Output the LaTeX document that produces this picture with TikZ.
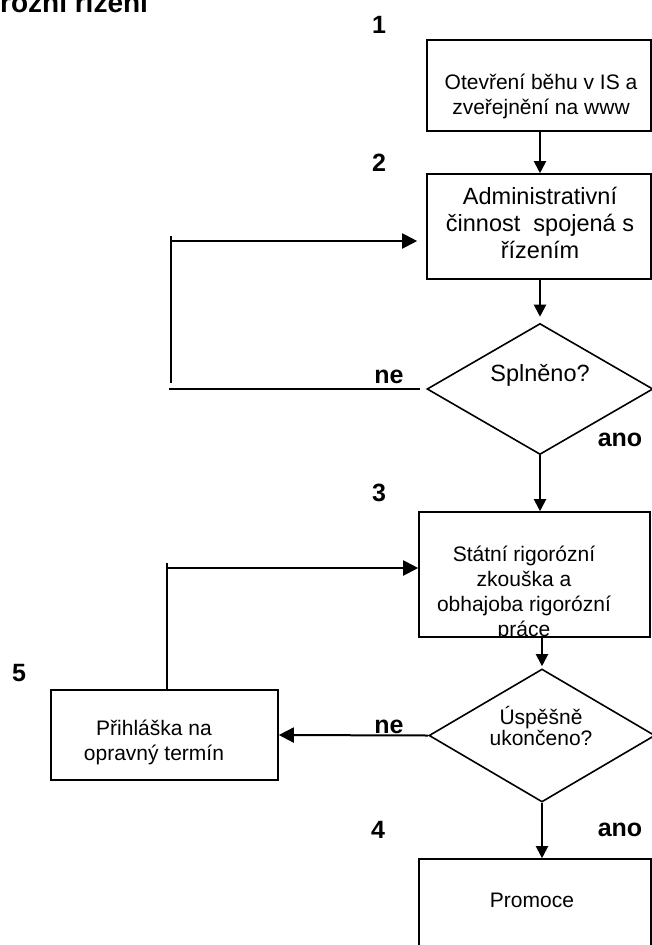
\documentclass[tikz,border=0pt]{standalone}
\usepackage{fontspec}
\setmainfont{Liberation Sans}
\usetikzlibrary{shapes.geometric,arrows.meta}
\begin{document}
\begin{tikzpicture}[x=1pt,y=-1pt,
  box/.style={draw,line width=1.6pt,inner sep=0pt},
  dec/.style={draw,diamond,line width=1.6pt,inner sep=0pt},
  txt/.style={inner sep=0pt,align=center,font=\fontsize{21}{25}\selectfont},
  lbl/.style={inner sep=0pt,font=\bfseries\fontsize{25}{25}\selectfont},
  flow/.style={line width=2pt},
  arr/.style={flow,-{Triangle[length=12pt,width=12pt]}},
  arrh/.style={flow,-{Triangle[length=15pt,width=15pt]}}]
\useasboundingbox (0,0) rectangle (652,945);
\clip (0,0) rectangle (652,945);
% title (cut off at the top)
\node[anchor=base west,inner sep=0pt,font=\bfseries\fontsize{28}{28}\selectfont] (title) at (0,12) {rózní řízení};
% boxes
\node[box,minimum width=224pt,minimum height=91pt] (b1) at (539,85.5) {};
\node[txt] (t1) at (541,96) {Otevření běhu v IS a\\zveřejnění na www};
\node[box,minimum width=224pt,minimum height=105pt] (b2) at (539,226.5) {};
\node[txt,font=\fontsize{23.5}{27}\selectfont] (t2) at (540,223) {Administrativní\\činnost\ \ spojená s\\řízením};
\node[dec,minimum width=226pt,minimum height=131pt] (d1) at (540,389) {};
\node[txt,font=\fontsize{23.5}{27}\selectfont] (td1) at (540,375) {Splněno?};
\begin{scope}
\clip (419,512) rectangle (650,637);
\node[txt] (t3) at (524,593) {Státní rigorózní\\zkouška a\\obhajoba rigorózní\\práce};
\end{scope}
\node[box,minimum width=231pt,minimum height=125pt] (b3) at (534.5,574.5) {};
\node[dec,minimum width=226pt,minimum height=133pt] (d2) at (542,735.5) {};
\node[txt,font=\fontsize{21}{18}\selectfont] (td2) at (541,726) {Úspěšně\\ukončeno?};
\node[box,minimum width=227pt,minimum height=90pt] (b5) at (164.5,735) {};
\node[txt] (t5) at (154,742) {Přihláška na\\opravný termín};
\node[box,minimum width=232pt,minimum height=122pt] (b4) at (535,920) {};
\node[txt] (t4) at (532,900) {Promoce};
% labels
\node[lbl] (n1) at (379,25) {1};
\node[lbl] (n2) at (379,163) {2};
\node[lbl] (n3) at (379,493) {3};
\node[lbl] (n4) at (378,830) {4};
\node[lbl] (n5) at (19,673) {5};
\node[lbl] (ne1) at (389,377) {ne};
\node[lbl] (ne2) at (389,727) {ne};
\node[lbl] (ano1) at (620,440) {ano};
\node[lbl] (ano2) at (620,830) {ano};
% connectors
\draw[arr] (b1.south -| d1.north) -- (b2.north -| d1.north);
\draw[arr,shorten >=6pt] (b2.south -| d1.north) -- (d1.north);
\draw[arr] (d1.south) -- (b3.north -| d1.south);
\draw[arr,shorten >=2pt] (b3.south -| d2.north) -- (d2.north);
\draw[arr] (d2.south) -- (b4.north -| d2.south);
\draw[arrh] (d2.west) -- (b5.east);
% loop 1
\coordinate (l1a) at (169,390);
\coordinate (l1b) at (171,383);
\coordinate (l1c) at (171,236);
\coordinate (l1d) at (170,241);
\draw[flow,shorten <=6pt] (d1.west) -- (d1.west -| l1a);
\draw[flow] (l1b) -- (l1c);
\draw[arrh,shorten >=9pt] (l1d) -- (l1d -| b2.west);
% loop 2
\coordinate (l2a) at (167,563);
\coordinate (l2b) at (168,568);
\draw[flow] (b5.north -| l2a) -- (l2a);
\draw[arrh] (l2b) -- (l2b -| b3.west);
\end{tikzpicture}
\end{document}
